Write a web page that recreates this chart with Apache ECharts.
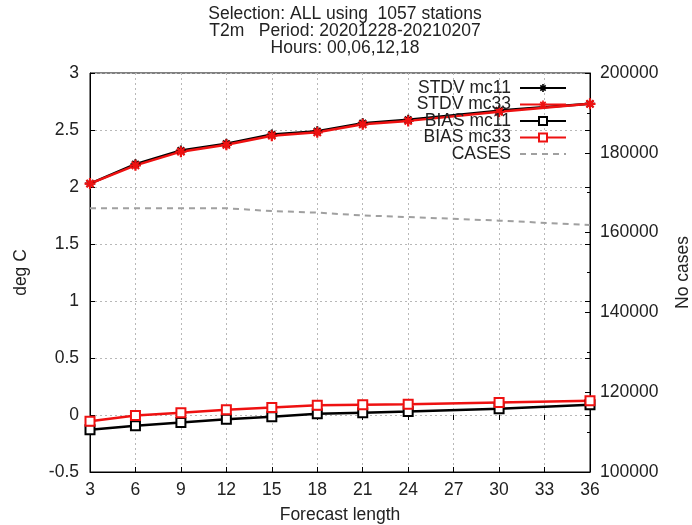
<!DOCTYPE html>
<html>
<head>
<meta charset="utf-8">
<script src="https://cdn.jsdelivr.net/npm/echarts@6/dist/echarts.min.js"></script>
<style>
  html, body { margin: 0; padding: 0; background: #fff; }
  #chart { width: 692px; height: 525px; }
</style>
</head>
<body>
<div id="chart"></div>
<script>
// forecast lengths that have data
const hours = [3, 6, 9, 12, 15, 18, 21, 24, 30, 36];
const stdvMc11 = [2.03, 2.20, 2.32, 2.38, 2.46, 2.49, 2.56, 2.59, 2.67, 2.73];
const stdvMc33 = [2.03, 2.19, 2.31, 2.37, 2.45, 2.48, 2.55, 2.58, 2.66, 2.73];
const biasMc11 = [-0.13, -0.095, -0.065, -0.038, -0.015, 0.01, 0.02, 0.03, 0.055, 0.09];
const biasMc33 = [-0.055, -0.005, 0.02, 0.045, 0.065, 0.085, 0.09, 0.095, 0.11, 0.125];
const cases = [166100, 166100, 166100, 166100, 165400, 165000, 164300, 163900, 163000, 161900];
const titleLines = ['Selection: ALL using  1057 stations', 'T2m   Period: 20201228-20210207', 'Hours: 00,06,12,18'];

// asterisk like gnuplot point type 3
const star = 'path://M0 4L10 4L10 6L0 6Z M4 0L6 0L6 10L4 10Z M1 2.4L2.4 1L9 7.6L7.6 9Z M7.6 1L9 2.4L2.4 9L1 7.6Z';

const pairs = ys => hours.map((h, i) => [h, ys[i]]);
const font = 'Liberation Sans, Arial, sans-serif';
const fs = 17.5;
const txt = '#222';
const red = '#ee1111';
const gridLine = { show: true, lineStyle: { color: '#b8b8b8', type: [2, 3], width: 1 } };

function initChart() {
    const myChart = echarts.init(document.getElementById('chart'));

    const option = {
        animation: false,
        textStyle: { fontFamily: font },
        title: {
            text: titleLines.join('\n'),
            left: 340,
            textAlign: 'center',
            top: 1,
            textStyle: { fontSize: fs, fontWeight: 'normal', color: txt, lineHeight: 17, fontFamily: font }
        },
        legend: {
            orient: 'vertical',
            right: 120,
            top: 74,
            align: 'right',
            itemWidth: 46,
            itemHeight: 10,
            itemGap: -1.5,
            textStyle: { fontSize: fs, lineHeight: 16, color: txt, fontFamily: font, padding: [0, 4, 0, 0] },
            data: ['STDV mc11', 'STDV mc33', 'BIAS mc11', 'BIAS mc33',
                { name: 'CASES', itemStyle: { opacity: 0 } }]
        },
        grid: {
            left: 90, right: 102, top: 73, bottom: 53,
            outerBoundsMode: 'none',
            show: true, borderColor: '#000', borderWidth: 1, backgroundColor: 'transparent'
        },
        xAxis: [{
            type: 'value', min: 3, max: 36, interval: 3,
            name: 'Forecast length', nameLocation: 'middle', nameGap: 34,
            nameTextStyle: { fontSize: fs, color: txt, fontFamily: font },
            axisLine: { show: true, onZero: false, lineStyle: { color: '#000' } },
            axisTick: { inside: true, length: 5, lineStyle: { color: '#000' } },
            axisLabel: { fontSize: fs, color: txt, margin: 9 },
            splitLine: gridLine
        }, {
            type: 'value', min: 3, max: 36, interval: 3, position: 'top',
            axisLine: { show: false },
            axisTick: { inside: true, length: 5, lineStyle: { color: '#000' } },
            axisLabel: { show: false },
            splitLine: { show: false }
        }],
        yAxis: [{
            type: 'value', min: -0.5, max: 3, interval: 0.5,
            name: 'deg C', nameLocation: 'middle', nameGap: 60, nameRotate: 90,
            nameTextStyle: { fontSize: fs, color: txt, fontFamily: font },
            axisLine: { show: true, onZero: false, lineStyle: { color: '#000' } },
            axisTick: { show: true, inside: true, length: 5, lineStyle: { color: '#000' } },
            axisLabel: { fontSize: fs, color: txt, margin: 11 },
            splitLine: gridLine
        }, {
            type: 'value', min: 100000, max: 200000, interval: 20000, position: 'right',
            name: 'No cases', nameLocation: 'middle', nameGap: 84, nameRotate: 90,
            nameTextStyle: { fontSize: fs, color: txt, fontFamily: font },
            axisLine: { show: true, lineStyle: { color: '#000' } },
            axisTick: { show: true, inside: true, length: 5, lineStyle: { color: '#000' } },
            minorTick: { show: true, splitNumber: 2, length: 3, lineStyle: { color: '#000' } },
            axisLabel: { fontSize: fs, color: txt, margin: 10, formatter: v => String(v) },
            splitLine: { show: false }
        }, {
            // mirrored left ticks on the right border
            type: 'value', min: -0.5, max: 3, interval: 0.5, position: 'right',
            axisLine: { show: false },
            axisTick: { show: true, inside: true, length: 5, lineStyle: { color: '#000' } },
            axisLabel: { show: false },
            splitLine: { show: false }
        }],
        series: [
            {
                name: 'STDV mc11', type: 'line', data: pairs(stdvMc11),
                color: '#000', symbol: star, symbolSize: 10,
                lineStyle: { width: 2.5, color: '#000' }, itemStyle: { color: '#000' }
            },
            {
                name: 'STDV mc33', type: 'line', data: pairs(stdvMc33),
                color: red, symbol: star, symbolSize: 11,
                lineStyle: { width: 2.5, color: red }, itemStyle: { color: red }
            },
            {
                name: 'BIAS mc11', type: 'line', data: pairs(biasMc11),
                color: '#000', symbol: 'emptyRect', symbolSize: 9,
                lineStyle: { width: 2.5, color: '#000' },
                itemStyle: { color: '#000', borderWidth: 2 }
            },
            {
                name: 'BIAS mc33', type: 'line', data: pairs(biasMc33),
                color: red, symbol: 'emptyRect', symbolSize: 9,
                lineStyle: { width: 2.5, color: red },
                itemStyle: { color: red, borderWidth: 2 }
            },
            {
                name: 'CASES', type: 'line', yAxisIndex: 1, data: pairs(cases),
                color: '#a0a0a0', symbol: 'none',
                lineStyle: { width: 2, color: '#a0a0a0', type: [6, 5] }
            }
        ]
    };

    myChart.setOption(option);
    window.addEventListener('resize', () => myChart.resize());
}

window.onload = initChart;
</script>
</body>
</html>
